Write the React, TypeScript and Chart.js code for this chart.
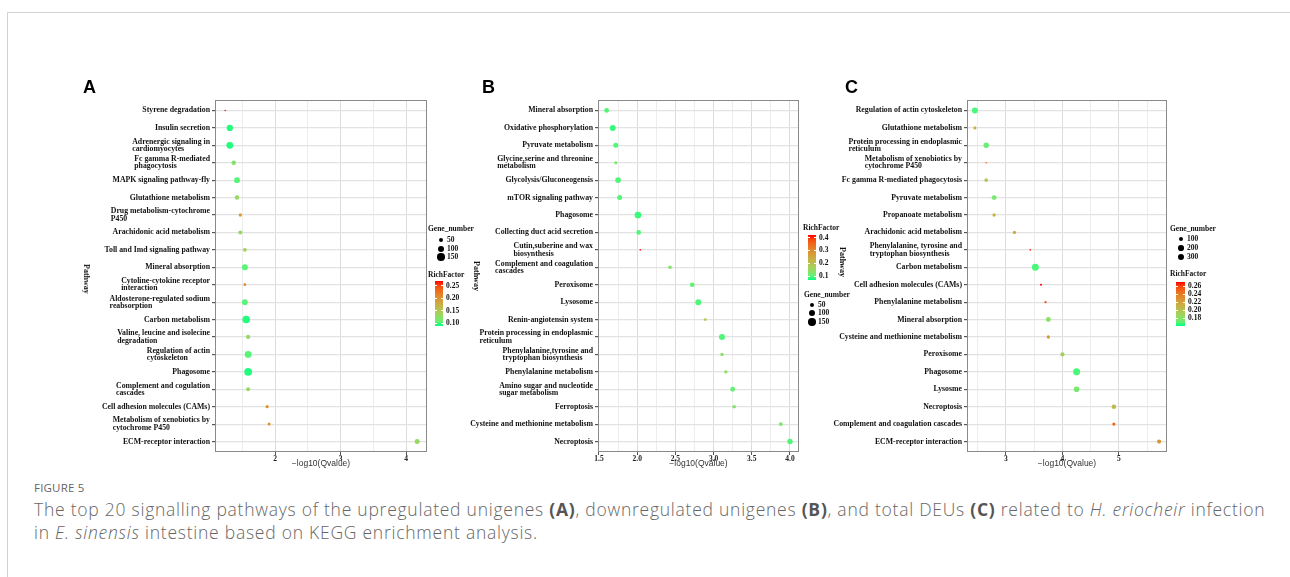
import React, { useEffect, useRef } from 'react';
import { Chart, registerables } from 'chart.js';
Chart.register(...registerables);

// ---------------- DATA ----------------
const catsA = [
  'Styrene degradation', 'Insulin secretion', 'Adrenergic signaling in\ncardiomyocytes',
  'Fc gamma R-mediated\nphagocytosis', 'MAPK signaling pathway-fly', 'Glutathione metabolism',
  'Drug metabolism-cytochrome\nP450', 'Arachidonic acid metabolism', 'Toll and Imd signaling pathway',
  'Mineral absorption', 'Cytoline-cytokine receptor\ninteraction', 'Aldosterone-regulated sodium\nreabsorption',
  'Carbon metabolism', 'Valine, leucine and isolecine\ndegradation', 'Regulation of actin\ncytoskeleton',
  'Phagosome', 'Complement and cogulation\ncascades', 'Cell adhesion molecules (CAMs)',
  'Metabolism of xenobiotics by\ncytochrome P450', 'ECM-receptor interaction',
];
const qA = [1.24, 1.31, 1.31, 1.37, 1.42, 1.42, 1.47, 1.47, 1.54, 1.54, 1.54, 1.54, 1.56, 1.59, 1.59, 1.59, 1.59, 1.88, 1.91, 4.17];
const geneA = [4, 110, 130, 60, 95, 55, 30, 45, 40, 100, 20, 90, 160, 50, 130, 170, 45, 28, 25, 70];
const richA = [0.27, 0.09, 0.09, 0.12, 0.1, 0.13, 0.19, 0.13, 0.14, 0.1, 0.21, 0.1, 0.09, 0.13, 0.1, 0.09, 0.13, 0.2, 0.2, 0.13];
const xMajorA = [2, 3, 4];
const xMinorA = [1.5, 2.5, 3.5];
const sizeLegendA = [50, 100, 150];
const richTicksA = [0.25, 0.2, 0.15, 0.1];

const catsB = [
  'Mineral absorption', 'Oxidative phosphorylation', 'Pyruvate metabolism',
  'Glycine,serine and threonine\nmetabolism', 'Glycolysis/Gluconeogensis', 'mTOR signaling pathway',
  'Phagosome', 'Collecting duct acid secretion', 'Cutin,suberine and wax\nbiosynthesis',
  'Complement and coagulation\ncascades', 'Peroxisome', 'Lysosome', 'Renin-angiotensin system',
  'Protein processing in endoplasmic\nreticulum', 'Phenylalanine,tyrosine and\ntryptophan biosynthesis',
  'Phenylalanine metabolism', 'Amino sugar and nucleotide\nsugar metabolism', 'Ferroptosis',
  'Cysteine and methionine metabolism', 'Necroptosis',
];
const qB = [1.6, 1.68, 1.72, 1.72, 1.75, 1.77, 2.01, 2.02, 2.04, 2.43, 2.72, 2.8, 2.89, 3.11, 3.11, 3.16, 3.25, 3.27, 3.88, 4.0];
const geneB = [64, 100, 70, 28, 87, 70, 125, 60, 4, 36, 60, 100, 22, 100, 32, 32, 64, 36, 44, 80];
const richB = [0.09, 0.08, 0.09, 0.12, 0.09, 0.09, 0.08, 0.09, 0.42, 0.13, 0.1, 0.09, 0.18, 0.09, 0.14, 0.14, 0.1, 0.13, 0.12, 0.09];
const xMajorB = [1.5, 2.0, 2.5, 3.0, 3.5, 4.0];
const xMinorB = [1.75, 2.25, 2.75, 3.25, 3.75];
const sizeLegendB = [50, 100, 150];
const richTicksB = [0.4, 0.3, 0.2, 0.1];

const catsC = [
  'Regulation of actin cytoskeleton', 'Glutathione metabolism', 'Protein processing in endoplasmic\nreticulum',
  'Metabolism of xenobiotics by\ncytochrome P450', 'Fc gamma R-mediated phagocytosis', 'Pyruvate metabolism',
  'Propanoate metabolism', 'Arachidonic acid metabolism', 'Phenylalanine, tyrosine and\ntryptophan biosynthesis',
  'Carbon metabolism', 'Cell adhesion molecules (CAMs)', 'Phenylalanine metabolism', 'Mineral absorption',
  'Cysteine and methionine metabolism', 'Peroxisome', 'Phagosome', 'Lysosme', 'Necroptosis',
  'Complement and coagulation cascades', 'ECM-receptor interaction',
];
const qC = [2.45, 2.45, 2.65, 2.65, 2.65, 2.79, 2.79, 3.15, 3.43, 3.52, 3.62, 3.7, 3.75, 3.75, 4.0, 4.25, 4.25, 4.91, 4.91, 5.71];
const geneC = [220, 60, 180, 15, 80, 150, 70, 70, 20, 300, 25, 30, 150, 70, 110, 310, 200, 130, 60, 110];
const richC = [0.165, 0.21, 0.17, 0.25, 0.195, 0.175, 0.21, 0.215, 0.265, 0.165, 0.27, 0.26, 0.18, 0.225, 0.19, 0.165, 0.175, 0.205, 0.25, 0.225];
const xMajorC = [3, 4, 5];
const xMinorC = [2.5, 3.5, 4.5, 5.5];
const sizeLegendC = [100, 200, 300];
const richTicksC = [0.26, 0.24, 0.22, 0.2, 0.18];

// ---------------- COLOR (Lab gradient springgreen -> red) ----------------
const LOW = [0, 255, 127];
const HIGH = [255, 0, 0];
function toLin(c: number) { c /= 255; return c <= 0.04045 ? c / 12.92 : Math.pow((c + 0.055) / 1.055, 2.4); }
function fromLin(c: number) {
  const v = c <= 0.0031308 ? 12.92 * c : 1.055 * Math.pow(c, 1 / 2.4) - 0.055;
  return Math.round(Math.max(0, Math.min(1, v)) * 255);
}
function rgb2lab(rgb: number[]) {
  const R = toLin(rgb[0]), G = toLin(rgb[1]), B = toLin(rgb[2]);
  const X = (0.4124564 * R + 0.3575761 * G + 0.1804375 * B) / 0.95047;
  const Y = 0.2126729 * R + 0.7151522 * G + 0.072175 * B;
  const Z = (0.0193339 * R + 0.119192 * G + 0.9503041 * B) / 1.08883;
  const f = (t: number) => (t > 0.008856 ? Math.cbrt(t) : 7.787 * t + 16 / 116);
  const fx = f(X), fy = f(Y), fz = f(Z);
  return [116 * fy - 16, 500 * (fx - fy), 200 * (fy - fz)];
}
function lab2rgb(lab: number[]) {
  const fy = (lab[0] + 16) / 116, fx = fy + lab[1] / 500, fz = fy - lab[2] / 200;
  const inv = (t: number) => (t * t * t > 0.008856 ? t * t * t : (t - 16 / 116) / 7.787);
  const X = inv(fx) * 0.95047, Y = inv(fy), Z = inv(fz) * 1.08883;
  const R = 3.2404542 * X - 1.5371385 * Y - 0.4985314 * Z;
  const G = -0.969266 * X + 1.8760108 * Y + 0.041556 * Z;
  const B = 0.0556434 * X - 0.2040259 * Y + 1.0572252 * Z;
  return [fromLin(R), fromLin(G), fromLin(B)];
}
const LAB_LOW = rgb2lab(LOW);
const LAB_HIGH = rgb2lab(HIGH);
function gradColor(t: number) {
  const tt = Math.max(0, Math.min(1, t));
  const lab = [0, 1, 2].map((i) => LAB_LOW[i] + (LAB_HIGH[i] - LAB_LOW[i]) * tt);
  const c = lab2rgb(lab);
  return `rgb(${c[0]},${c[1]},${c[2]})`;
}

// ---------------- PANEL CONFIG ----------------
type Cfg = {
  key: string; cats: string[]; q: number[]; gene: number[]; rich: number[];
  major: number[]; minor: number[]; xmin: number; xmax: number; dec: number; k: number;
  rmin: number; rmax: number;
  canvas: { x: number; y: number; w: number; h: number };
  plot: { l: number; t: number; r: number; b: number };
};

const panels: Cfg[] = [
  { key: 'A', cats: catsA, q: qA, gene: geneA, rich: richA, major: xMajorA, minor: xMinorA,
    xmin: 1.084, xmax: 4.32, dec: 0, k: 0.3, rmin: 0.088, rmax: 0.27,
    canvas: { x: 60, y: 90, w: 380, h: 385 }, plot: { l: 215, t: 100, r: 427, b: 452 } },
  { key: 'B', cats: catsB, q: qB, gene: geneB, rich: richB, major: xMajorB, minor: xMinorB,
    xmin: 1.487, xmax: 4.118, dec: 1, k: 0.3, rmin: 0.07, rmax: 0.42,
    canvas: { x: 455, y: 90, w: 355, h: 385 }, plot: { l: 598, t: 100, r: 799, b: 452 } },
  { key: 'C', cats: catsC, q: qC, gene: geneC, rich: richC, major: xMajorC, minor: xMinorC,
    xmin: 2.31, xmax: 5.85, dec: 0, k: 0.2, rmin: 0.16, rmax: 0.27,
    canvas: { x: 822, y: 90, w: 358, h: 385 }, plot: { l: 967, t: 100, r: 1167, b: 452 } },
];

const rOf = (k: number, g: number) => Math.max(0.8, k * Math.sqrt(g));
const SERIF = '"Liberation Serif", "Times New Roman", serif';
const SANS = '"Liberation Sans", Arial, sans-serif';
const CAP = '"Open Sans", Lato, sans-serif';
const X_AXIS_H = 16;
const Y_AXIS_W = 3;

function makeLabelPlugin(cats: string[]) {
  return {
    id: 'pathwayLabels',
    afterDraw(chart: any) {
      const { ctx, chartArea, scales } = chart;
      const ys = scales.y;
      ctx.save();
      ctx.font = `bold 7.8px ${SERIF}`;
      ctx.fillStyle = '#111';
      ctx.textBaseline = 'middle';
      ctx.textAlign = 'left';
      const lh = 7.3;
      cats.forEach((lab, i) => {
        const lines = lab.split('\n');
        const w = Math.max(...lines.map((l) => ctx.measureText(l).width));
        const xr = chartArea.left - Y_AXIS_W - 2;
        const py = ys.getPixelForValue(i);
        lines.forEach((ln, j) => {
          ctx.fillText(ln, xr - w, py + (j - (lines.length - 1) / 2) * lh);
        });
      });
      ctx.strokeStyle = '#8a8a8a';
      ctx.lineWidth = 1;
      ctx.strokeRect(chartArea.left + 0.5, chartArea.top + 0.5, chartArea.width - 1, chartArea.height - 1);
      ctx.restore();
    },
  };
}

function Panel({ cfg }: { cfg: Cfg }) {
  const ref = useRef<HTMLCanvasElement>(null);
  useEffect(() => {
    const { canvas, plot } = cfg;
    const isMajor = (v: number) => cfg.major.some((m) => Math.abs(m - v) < 1e-6);
    const allTicks = [...cfg.major, ...cfg.minor].sort((a, b) => a - b);
    const chart = new Chart(ref.current as HTMLCanvasElement, {
      type: 'bubble',
      data: {
        datasets: [
          {
            data: cfg.q.map((x, i) => ({ x, y: i, r: rOf(cfg.k, cfg.gene[i]) })),
            backgroundColor: cfg.rich.map((v) => gradColor((v - cfg.rmin) / (cfg.rmax - cfg.rmin))),
            borderWidth: 0,
          },
        ],
      },
      options: {
        responsive: false,
        animation: false,
        events: [],
        layout: {
          padding: {
            left: plot.l - canvas.x - Y_AXIS_W,
            top: plot.t - canvas.y,
            right: canvas.x + canvas.w - plot.r,
            bottom: canvas.y + canvas.h - plot.b - X_AXIS_H,
          },
        },
        plugins: { legend: { display: false }, tooltip: { enabled: false } },
        scales: {
          x: {
            type: 'linear',
            min: cfg.xmin,
            max: cfg.xmax,
            afterBuildTicks: (s: any) => { s.ticks = allTicks.map((v) => ({ value: v })); },
            afterFit: (s: any) => { s.height = X_AXIS_H; },
            border: { display: false },
            grid: {
              color: (c: any) => (isMajor(c.tick?.value) ? '#dcdcdc' : '#ededed'),
              lineWidth: 1,
              drawTicks: true,
              tickLength: 3,
              tickColor: (c: any) => (isMajor(c.tick?.value) ? '#555' : 'rgba(0,0,0,0)'),
            },
            ticks: {
              autoSkip: false,
              maxRotation: 0,
              padding: 0,
              color: '#222',
              font: { family: SERIF, weight: 'bold', size: 7.5, lineHeight: 1 },
              callback: (v: any) => (isMajor(Number(v)) ? Number(v).toFixed(cfg.dec) : ''),
            },
            title: {
              display: true,
              text: '\u2212log10(Qvalue)',
              color: '#333',
              padding: 0,
              font: { family: SANS, size: 8.5, lineHeight: 1 },
            },
          },
          y: {
            type: 'linear',
            reverse: true,
            min: -0.6,
            max: cfg.cats.length - 0.4,
            afterBuildTicks: (s: any) => { s.ticks = cfg.cats.map((_, i) => ({ value: i })); },
            afterFit: (s: any) => { s.width = Y_AXIS_W; },
            border: { display: false },
            ticks: { display: false },
            grid: { color: '#e2e2e2', lineWidth: 1.2, drawTicks: true, tickLength: 3, tickColor: '#555' },
          },
        },
      } as any,
      plugins: [makeLabelPlugin(cfg.cats)],
    });
    return () => chart.destroy();
  }, [cfg]);
  return (
    <canvas
      ref={ref}
      width={cfg.canvas.w}
      height={cfg.canvas.h}
      style={{ position: 'absolute', left: cfg.canvas.x, top: cfg.canvas.y, width: cfg.canvas.w, height: cfg.canvas.h }}
    />
  );
}

// ---------------- HTML helpers ----------------
const lgFont: React.CSSProperties = { fontFamily: SERIF, fontWeight: 'bold', fontSize: 7.5, color: '#111', lineHeight: 1 };

function Txt({ x, y, children, style }: { x: number; y: number; children: React.ReactNode; style?: React.CSSProperties }) {
  return (
    <div style={{ position: 'absolute', left: x, top: y, transform: 'translateY(-50%)', whiteSpace: 'nowrap', ...lgFont, ...style }}>
      {children}
    </div>
  );
}

function SizeLegend({ x, y, cx, lx, rows, vals, k }: { x: number; y: number; cx: number; lx: number; rows: number[]; vals: number[]; k: number }) {
  return (
    <>
      <Txt x={x} y={y}>Gene_number</Txt>
      {vals.map((v, i) => {
        const r = rOf(k, v);
        return (
          <React.Fragment key={v}>
            <div style={{ position: 'absolute', left: cx - r, top: rows[i] - r, width: 2 * r, height: 2 * r, borderRadius: '50%', background: '#000' }} />
            <Txt x={lx} y={rows[i]}>{v}</Txt>
          </React.Fragment>
        );
      })}
    </>
  );
}

function ColorLegend({ x, y, bx, by, bw, bh, lx, min, max, ticks, dec }: { x: number; y: number; bx: number; by: number; bw: number; bh: number; lx: number; min: number; max: number; ticks: number[]; dec: number }) {
  const stops = Array.from({ length: 11 }, (_, i) => gradColor(i / 10));
  return (
    <>
      <Txt x={x} y={y}>RichFactor</Txt>
      <div style={{ position: 'absolute', left: bx, top: by, width: bw, height: bh, background: `linear-gradient(to top, ${stops.join(', ')})` }} />
      {ticks.map((t) => {
        const ty = by + ((max - t) / (max - min)) * bh;
        return (
          <React.Fragment key={t}>
            <div style={{ position: 'absolute', left: bx, top: ty - 0.5, width: 2, height: 1, background: '#fff' }} />
            <div style={{ position: 'absolute', left: bx + bw - 2, top: ty - 0.5, width: 2, height: 1, background: '#fff' }} />
            <Txt x={lx} y={ty}>{t.toFixed(dec)}</Txt>
          </React.Fragment>
        );
      })}
    </>
  );
}

function Pathway({ x, y }: { x: number; y: number }) {
  return (
    <div style={{ position: 'absolute', left: x, top: y, transform: 'translate(-50%, -50%) rotate(90deg)', ...lgFont, fontSize: 8, whiteSpace: 'nowrap' }}>
      Pathway
    </div>
  );
}

function Letter({ x, y, t }: { x: number; y: number; t: string }) {
  return (
    <div style={{ position: 'absolute', left: x, top: y, transform: 'translateY(-50%)', fontFamily: SANS, fontWeight: 'bold', fontSize: 18, color: '#000', lineHeight: 1 }}>
      {t}
    </div>
  );
}

export default function App() {
  return (
    <div style={{ position: 'absolute', left: 0, top: 0, width: 1290, height: 577, overflow: 'hidden', background: '#fff' }}>
      <div style={{ position: 'absolute', left: 7, top: 12, width: 1300, height: 600, borderTop: '1px solid #d2d2d2', borderLeft: '1px solid #d2d2d2' }} />
      {panels.map((p) => (
        <Panel key={p.key} cfg={p} />
      ))}
      <Letter x={83} y={87} t="A" />
      <Letter x={482} y={87} t="B" />
      <Letter x={845} y={87} t="C" />
      <Pathway x={86} y={279} />
      <Pathway x={476} y={276} />
      <Pathway x={842} y={262} />

      <SizeLegend x={428} y={229} cx={441} lx={447} rows={[240, 249, 257]} vals={sizeLegendA} k={0.3} />
      <ColorLegend x={428} y={275} bx={435} by={281} bw={8} bh={45} lx={446} min={0.088} max={0.27} ticks={richTicksA} dec={2} />

      <ColorLegend x={803} y={228} bx={808} by={235} bw={8} bh={45} lx={819} min={0.07} max={0.42} ticks={richTicksB} dec={1} />
      <SizeLegend x={804} y={295} cx={812} lx={818} rows={[305, 313, 322]} vals={sizeLegendB} k={0.3} />

      <SizeLegend x={1170} y={229} cx={1181} lx={1187} rows={[239, 248, 257]} vals={sizeLegendC} k={0.2} />
      <ColorLegend x={1170} y={274} bx={1176} by={282} bw={9} bh={44} lx={1188} min={0.16} max={0.27} ticks={richTicksC} dec={2} />

      <div style={{ position: 'absolute', left: 34, top: 480, fontFamily: CAP, fontSize: 11.5, color: '#666', letterSpacing: 0.2, lineHeight: '15px' }}>
        FIGURE 5
      </div>
      <div style={{ position: 'absolute', left: 34, top: 498, fontFamily: CAP, fontSize: 17.5, fontWeight: 300, letterSpacing: 0.75, color: '#666', lineHeight: '23px', whiteSpace: 'nowrap' }}>
        The top 20 signalling pathways of the upregulated unigenes <b style={{ color: '#555', fontWeight: 700 }}>(A)</b>, downregulated unigenes <b style={{ color: '#555', fontWeight: 700 }}>(B)</b>, and total DEUs <b style={{ color: '#555', fontWeight: 700 }}>(C)</b> related to <i>H. eriocheir</i> infection
        <br />
        in <i>E. sinensis</i> intestine based on KEGG enrichment analysis.
      </div>
    </div>
  );
}
